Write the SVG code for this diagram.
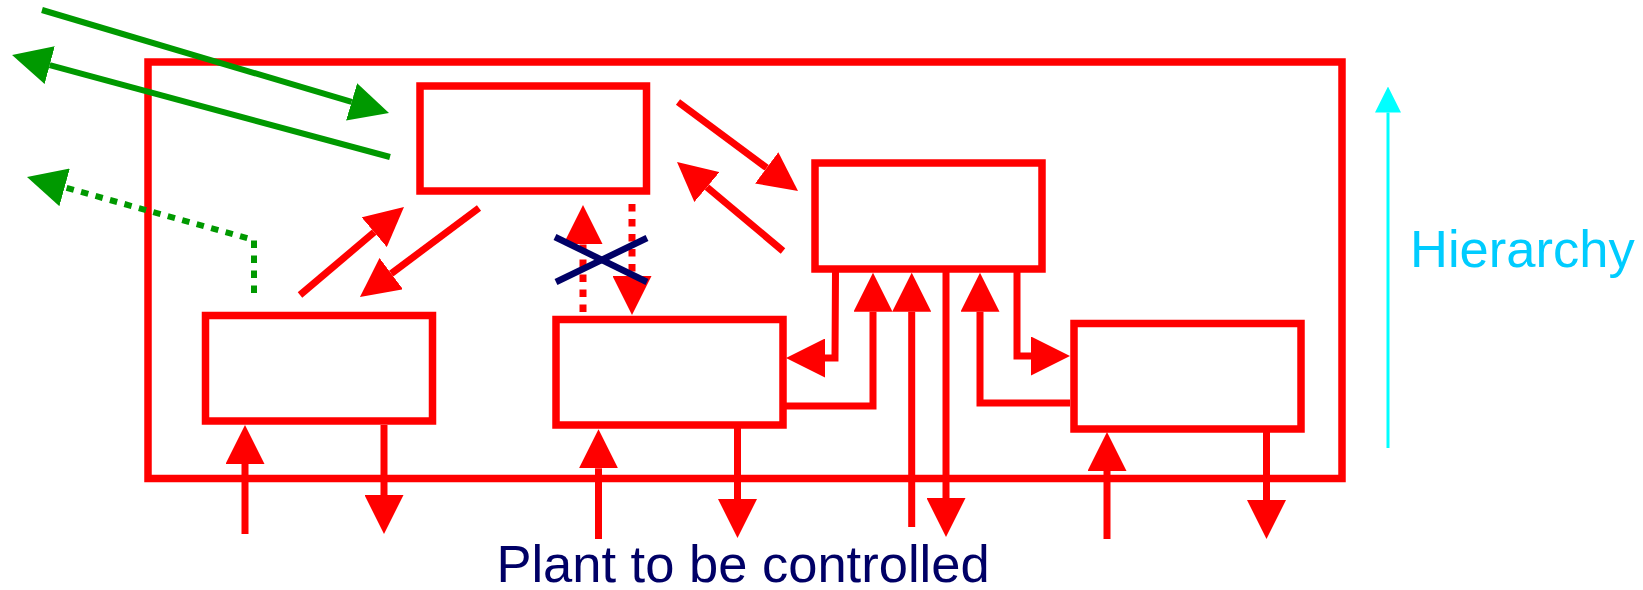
<svg xmlns="http://www.w3.org/2000/svg" width="1643" height="590" viewBox="0 0 1643 590">
<style>
.box{fill:none;stroke:#ff0000;stroke-width:7.5}
.r{fill:none;stroke:#ff0000;stroke-width:7;marker-end:url(#ar)}
.rd{fill:none;stroke:#ff0000;stroke-width:7;stroke-dasharray:7.5 7.5;marker-end:url(#ar)}
.g{fill:none;stroke:#009900;stroke-width:6;marker-end:url(#ag)}
.gd{fill:none;stroke:#009900;stroke-width:6;stroke-dasharray:7.5 7.5;marker-end:url(#ag)}
.x{stroke:#000066;stroke-width:6.5}
.lbl{font-family:"Liberation Sans",Arial,sans-serif;font-size:52.5px}
</style>
<defs>
<marker id="ar" markerUnits="userSpaceOnUse" markerWidth="39" markerHeight="39" viewBox="0 0 39 39" refX="0" refY="19.5" orient="auto"><path d="M0,0 L39,19.5 L0,39 Z" fill="#ff0000"/></marker>
<marker id="ag" markerUnits="userSpaceOnUse" markerWidth="39" markerHeight="39" viewBox="0 0 39 39" refX="0" refY="19.5" orient="auto"><path d="M0,0 L39,19.5 L0,39 Z" fill="#009900"/></marker>
<marker id="ac" markerUnits="userSpaceOnUse" markerWidth="26" markerHeight="26" viewBox="0 0 26 26" refX="0" refY="13" orient="auto"><path d="M0,0 L26,13 L0,26 Z" fill="#00ffff"/></marker>
</defs>
<rect width="1643" height="590" fill="#ffffff"/>
<g id="system"><rect class="box" x="148" y="62" width="1194" height="416.5"/></g>
<g id="nodeA"><rect class="box" x="420" y="86" width="226.5" height="105"/></g>
<g id="nodeB"><rect class="box" x="205.5" y="315.5" width="227" height="105.5"/></g>
<g id="nodeC"><rect class="box" x="815" y="163" width="227" height="106"/></g>
<g id="nodeD"><rect class="box" x="556" y="319.5" width="227" height="105.5"/></g>
<g id="nodeE"><rect class="box" x="1074" y="323.5" width="227" height="105.5"/></g>
<g id="connectors">
<path class="g" d="M42,10 L351.6,101.9"/>
<path class="g" d="M390,157 L49.7,65.2"/>
<path class="gd" d="M254,293 L254,240 L64.6,187.4"/>
<path class="r" d="M300,295 L374.2,232.2"/>
<path class="r" d="M479,208 L391.2,273.6"/>
<path class="r" d="M678,102 L766.7,167.8"/>
<path class="r" d="M783,251 L706.9,187.1"/>
<path class="rd" d="M583,312 L583,244"/>
<path class="rd" d="M632,204 L632,276"/>
<line class="x" x1="555" y1="237" x2="647" y2="282"/>
<line class="x" x1="556" y1="282" x2="647" y2="238"/>
<path class="r" d="M835.5,272 L835,358 L825,358"/>
<path class="r" d="M786,406 L873,406 L873,311.7"/>
<path class="r" d="M911.7,527 L911.7,311.7"/>
<path class="r" d="M946,272 L946,498"/>
<path class="r" d="M1070,403 L980,403 L980,311.7"/>
<path class="r" d="M1017,272 L1017,356 L1031,356"/>
<path class="r" d="M245,534 L245,464"/>
<path class="r" d="M384,425 L384,495"/>
<path class="r" d="M598.5,539 L598.5,468.3"/>
<path class="r" d="M737.5,428 L737.5,499"/>
<path class="r" d="M1107,539 L1107,471"/>
<path class="r" d="M1266.5,432 L1266.5,500"/>
<path d="M1388,448 L1388,112.5" fill="none" stroke="#00ffff" stroke-width="3" marker-end="url(#ac)"/>
</g>
<text class="lbl" x="1410" y="267" fill="#00ccff">Hierarchy</text>
<text class="lbl" x="743" y="582" fill="#000066" text-anchor="middle">Plant to be controlled</text>
</svg>
